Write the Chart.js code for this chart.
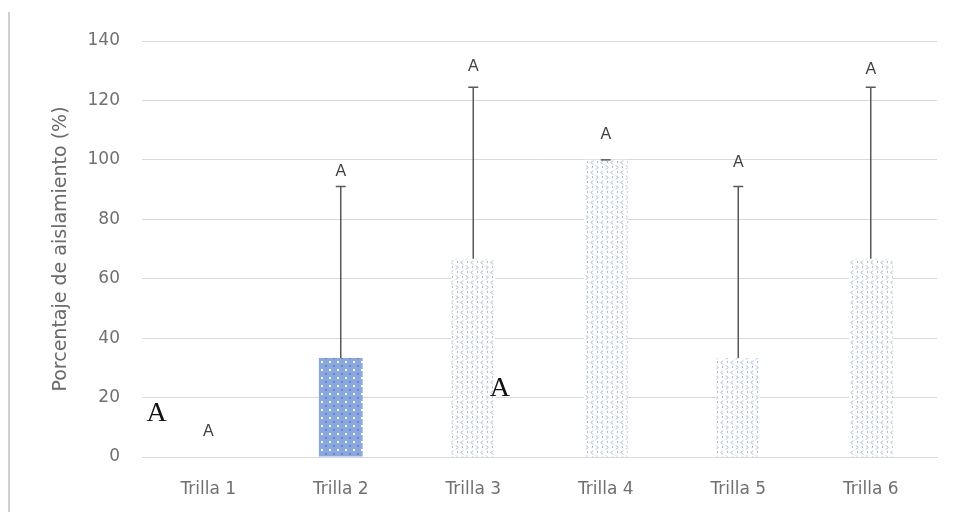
<!DOCTYPE html>
<html>
<head>
<meta charset="utf-8">
<script src="https://cdn.jsdelivr.net/npm/chart.js@4/dist/chart.umd.min.js"></script>
<style>
  html, body { margin: 0; padding: 0; background: #fff; }
  #wrap { width: 956px; height: 512px; position: relative; }
</style>
</head>
<body>
<div id="wrap"><canvas id="aislChart" width="956" height="512"></canvas></div>
<script>
const categories = ["Trilla 1", "Trilla 2", "Trilla 3", "Trilla 4", "Trilla 5", "Trilla 6"]
const porcentaje = [0, 33.3, 66.7, 100, 33.3, 66.7]
const errorPlus = [0, 57.7, 57.7, 0, 57.7, 57.7]
const letras = ["A", "A", "A", "A", "A", "A"]
const letraValor = [8.5, 96, 131.5, 108.5, 99, 130.5]
const yTicks = [0, 20, 40, 60, 80, 100, 120, 140]
// stray big letters in the original figure: [category index, value]
const letrasSueltas = [[-0.39, 14.5], [2.2, 22.9]]

function patronRelleno() {
    let c = document.createElement('canvas')
    c.width = 8; c.height = 8
    let g = c.getContext('2d')
    g.fillStyle = '#8aa8de'
    g.fillRect(0, 0, 8, 8)
    g.fillStyle = '#ffffff'
    g.fillRect(1, 1, 2, 2)
    g.fillStyle = '#6283c8'
    g.fillRect(5, 5, 2, 2)
    return g.createPattern(c, 'repeat')
}

function patronClaro() {
    let c = document.createElement('canvas')
    c.width = 10; c.height = 10
    let g = c.getContext('2d')
    g.fillStyle = '#ffffff'
    g.fillRect(0, 0, 10, 10)
    g.strokeStyle = '#9aabd0'
    g.lineWidth = 1
    g.beginPath()
    g.moveTo(3, 0.5); g.lineTo(1, 2.5); g.lineTo(3, 4.5)
    g.moveTo(6, 5.5); g.lineTo(8, 7.5); g.lineTo(6, 9.5)
    g.stroke()
    g.fillStyle = '#aab9d7'
    g.fillRect(7, 1, 1, 2)
    g.fillRect(2, 6, 1, 2)
    return g.createPattern(c, 'repeat')
}

const rellenos = categories.map((c, i) => i == 1 ? patronRelleno() : patronClaro())

const marcoPlugin = {
    id: 'marco',
    beforeDraw(chart) {
        let ctx = chart.ctx
        ctx.save()
        ctx.fillStyle = '#ffffff'
        ctx.fillRect(0, 0, chart.width, chart.height)
        ctx.strokeStyle = '#d0d0d0'
        ctx.lineWidth = 2
        ctx.beginPath()
        ctx.moveTo(9, 12)
        ctx.lineTo(9, chart.height)
        ctx.stroke()
        ctx.restore()
    }
}

const errorPlugin = {
    id: 'errores',
    afterDatasetsDraw(chart) {
        let ctx = chart.ctx
        let x = chart.scales.x
        let y = chart.scales.y
        ctx.save()
        porcentaje.forEach((v, i) => {
            let px = x.getPixelForValue(i)
            if (v > 0) {
                let y0 = y.getPixelForValue(v)
                let y1 = y.getPixelForValue(v + errorPlus[i])
                ctx.strokeStyle = '#595959'
                ctx.lineWidth = 1.5
                ctx.beginPath()
                ctx.moveTo(px, y0)
                ctx.lineTo(px, y1)
                ctx.moveTo(px - 5, y1)
                ctx.lineTo(px + 5, y1)
                ctx.stroke()
            }
            ctx.fillStyle = '#404040'
            ctx.font = '16px "Liberation Sans", sans-serif'
            ctx.textAlign = 'center'
            ctx.textBaseline = 'middle'
            ctx.fillText(letras[i], px, y.getPixelForValue(letraValor[i]))
        })
        ctx.fillStyle = '#111111'
        ctx.font = '28px "Liberation Serif", serif'
        letrasSueltas.forEach(p => {
            ctx.fillText("A", x.getPixelForValue(p[0]), y.getPixelForValue(p[1]))
        })
        ctx.restore()
    }
}

new Chart("aislChart", {
    type: 'bar',
    data: {
        labels: categories,
        datasets: [{
            label: 'Porcentaje de aislamiento',
            data: porcentaje,
            backgroundColor: rellenos,
            borderWidth: 0,
            barPercentage: 0.33,
            categoryPercentage: 1,
        }]
    },
    options: {
        responsive: false,
        animation: false,
        layout: {
            padding: { left: 50, right: 19, top: 41, bottom: 0 }
        },
        plugins: {
            legend: { display: false },
            tooltip: { enabled: false },
        },
        scales: {
            x: {
                grid: { display: false, drawTicks: false },
                border: { display: true, color: '#d9d9d9', width: 1 },
                ticks: {
                    color: '#707070',
                    font: { family: 'DejaVu Sans', size: 17 },
                    padding: 22,
                },
                afterFit(scale) { scale.height = 55 },
            },
            y: {
                min: 0,
                max: 140,
                afterBuildTicks(scale) { scale.ticks = yTicks.map(v => ({ value: v })) },
                grid: { color: '#d9d9d9', drawTicks: false },
                border: { display: false },
                ticks: {
                    color: '#707070',
                    font: { family: 'DejaVu Sans', size: 17 },
                    padding: 22,
                },
                title: {
                    display: true,
                    text: 'Porcentaje de aislamiento (%)',
                    color: '#6a6a6a',
                    font: { family: 'DejaVu Sans', size: 19, weight: 'normal' },
                    padding: { top: 0, bottom: 0 },
                },
                afterFit(scale) { scale.width = 92 },
            },
        },
    },
    plugins: [marcoPlugin, errorPlugin],
})
</script>
</body>
</html>
